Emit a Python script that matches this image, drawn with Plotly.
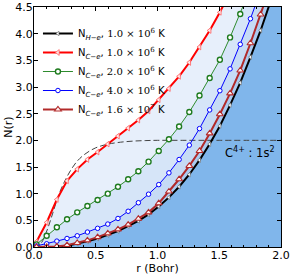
import plotly.graph_objects as go

# ---- data ----
r_grid = [0.02, 0.1025, 0.185, 0.2675, 0.35, 0.4325, 0.515, 0.5975, 0.68, 0.7625,
          0.845, 0.9275, 1.01, 1.0925, 1.175, 1.2575, 1.34, 1.4225, 1.505, 1.5875,
          1.67, 1.7525, 1.835, 1.9175, 2.0]

n_he_1e6 = [0.0, 0.0, 0.005, 0.025, 0.06, 0.105, 0.16, 0.225, 0.30, 0.39,
            0.49, 0.61, 0.76, 0.93, 1.13, 1.36, 1.63, 1.93, 2.27, 2.66,
            3.08, 3.56, 4.06, 4.62, 5.20]
n_c_1e6 = [0.10, 0.46, 0.89, 1.24, 1.46, 1.64, 1.78, 1.93, 2.08, 2.23,
           2.38, 2.55, 2.76, 2.97, 3.20, 3.46, 3.75, 4.06, 4.40, 4.78]
n_c_2e6 = [0.05, 0.21, 0.37, 0.52, 0.65, 0.77, 0.88, 1.00, 1.13, 1.27,
           1.42, 1.60, 1.80, 2.02, 2.26, 2.53, 2.84, 3.17, 3.51, 3.93,
           4.37, 4.85]
n_c_4e6 = [0.02, 0.06, 0.11, 0.16, 0.21, 0.28, 0.35, 0.43, 0.535, 0.67,
           0.83, 0.99, 1.17, 1.39, 1.64, 1.91, 2.22, 2.57, 2.93, 3.34,
           3.80, 4.28, 4.80]
n_c_16e6 = [0.0, 0.0, 0.01, 0.035, 0.075, 0.125, 0.185, 0.255, 0.33, 0.42,
            0.53, 0.65, 0.82, 1.04, 1.27, 1.52, 1.80, 2.13, 2.49, 2.88,
            3.31, 3.82, 4.36, 4.92]

r_shell = [0.0, 0.05, 0.1, 0.15, 0.2, 0.25, 0.3, 0.35, 0.4, 0.45, 0.5, 0.55,
           0.6, 0.7, 0.8, 0.9, 1.0, 1.2, 1.5, 2.0]
n_shell = [0.0, 0.05, 0.28, 0.62, 0.98, 1.24, 1.45, 1.61, 1.72, 1.80, 1.86, 1.90,
           1.93, 1.965, 1.985, 1.995, 2.0, 2.0, 2.0, 2.0]

labels = [
    'N<sub><i>H−e</i></sub>, <span style="font-family:DejaVu Serif">1.0 × 10<sup>6</sup></span> K',
    'N<sub><i>C−e</i></sub>, <span style="font-family:DejaVu Serif">1.0 × 10<sup>6</sup></span> K',
    'N<sub><i>C−e</i></sub>, <span style="font-family:DejaVu Serif">2.0 × 10<sup>6</sup></span> K',
    'N<sub><i>C−e</i></sub>, <span style="font-family:DejaVu Serif">4.0 × 10<sup>6</sup></span> K',
    'N<sub><i>C−e</i></sub>, <span style="font-family:DejaVu Serif">1.6 × 10<sup>7</sup></span> K',
]

fig = go.Figure()

# ---- fills (bottom to top) ----
fill_series = [(n_he_1e6, 'tozeroy', '#80b6eb'),
               (n_c_16e6, 'tonexty', '#aacbf1'),
               (n_c_4e6, 'tonexty', '#c6dbf5'),
               (n_c_2e6, 'tonexty', '#d6e5f8'),
               (n_c_1e6, 'tonexty', '#e7effb')]
for ys, mode, col in fill_series:
    fig.add_trace(go.Scatter(x=r_grid[:len(ys)], y=ys, mode='lines', fill=mode,
                             fillcolor=col, line=dict(width=0, color=col),
                             showlegend=False, hoverinfo='skip'))

# ---- 1s^2 shell curve ----
fig.add_trace(go.Scatter(x=r_shell, y=n_shell, mode='lines', line_shape='spline',
                         line=dict(color='#444444', width=1, dash='6px,3px'),
                         showlegend=False, hoverinfo='skip'))

# ---- lines with markers ----
styles = [
    (n_he_1e6, 'black', 2, dict(symbol='triangle-left', size=4, color='white',
                                line=dict(color='#666666', width=0.6))),
    (n_c_1e6, '#ff0000', 2, dict(symbol='triangle-left', size=5, color='#ffe6e6',
                                 line=dict(color='#ff6060', width=0.8))),
    (n_c_2e6, '#2e8b2e', 1, dict(symbol='circle', size=5, color='white',
                                 line=dict(color='#1e7b1e', width=1.4))),
    (n_c_4e6, '#0000ff', 1, dict(symbol='circle', size=4.5, color='white',
                                 line=dict(color='#0000ff', width=1))),
    (n_c_16e6, '#b22a2a', 2, dict(symbol='triangle-up', size=6, color='#fff0f0',
                                  line=dict(color='#b22a2a', width=1.1))),
]
for i, ((ys, col, w, mk), lab) in enumerate(zip(styles, labels)):
    fig.add_trace(go.Scatter(x=r_grid[:len(ys)], y=ys, mode='lines+markers',
                             name=lab, legendgroup=f'g{i}',
                             line=dict(color=col, width=w), marker=mk))

fig.add_annotation(x=1.965, y=1.78, xref='x', yref='y', xanchor='right', yanchor='middle',
                   text='C<sup>4+</sup> : 1s<sup>2</sup>', showarrow=False,
                   font=dict(family='DejaVu Sans', size=11.5, color='black'))

axis_common = dict(showline=True, linecolor='black', linewidth=1, mirror='ticks',
                   ticks='inside', ticklen=4, tickcolor='black', showgrid=False,
                   zeroline=False, automargin=False, ticklabelstandoff=-2,
                   tickfont=dict(family='DejaVu Sans', size=11, color='black'))

fig.update_xaxes(range=[0, 2], tickvals=[0, 0.5, 1.0, 1.5, 2.0],
                 ticktext=['0.0', '0.5', '1.0', '1.5', '2.0'],
                 minor=dict(dtick=0.1, ticks='inside', ticklen=2, tickcolor='black'),
                 title=dict(text='r (Bohr)', font=dict(family='DejaVu Sans', size=11), standoff=0),
                 **axis_common)
fig.update_yaxes(range=[0, 4.5], tickvals=[0, 0.5, 1, 1.5, 2, 2.5, 3, 3.5, 4, 4.5],
                 ticktext=['0.0', '0.5', '1.0', '1.5', '2.0', '2.5', '3.0', '3.5', '4.0', '4.5'],
                 title=dict(text='N(r)', font=dict(family='DejaVu Sans', size=11), standoff=0),
                 **axis_common)

fig.update_layout(
    width=291, height=275,
    margin=dict(l=34, r=10, t=7, b=28),
    paper_bgcolor='white', plot_bgcolor='white',
    font=dict(family='DejaVu Sans', size=11, color='black'),
    legend=dict(x=0.016, y=0.95, xanchor='left', yanchor='top', traceorder='normal',
                bgcolor='rgba(0,0,0,0)', borderwidth=0,
                font=dict(family='DejaVu Sans', size=10), tracegroupgap=5),
)

fig.write_html("out.html", config={'displayModeBar': False},
               post_script="document.body.style.margin='0';document.body.style.padding='0';")
